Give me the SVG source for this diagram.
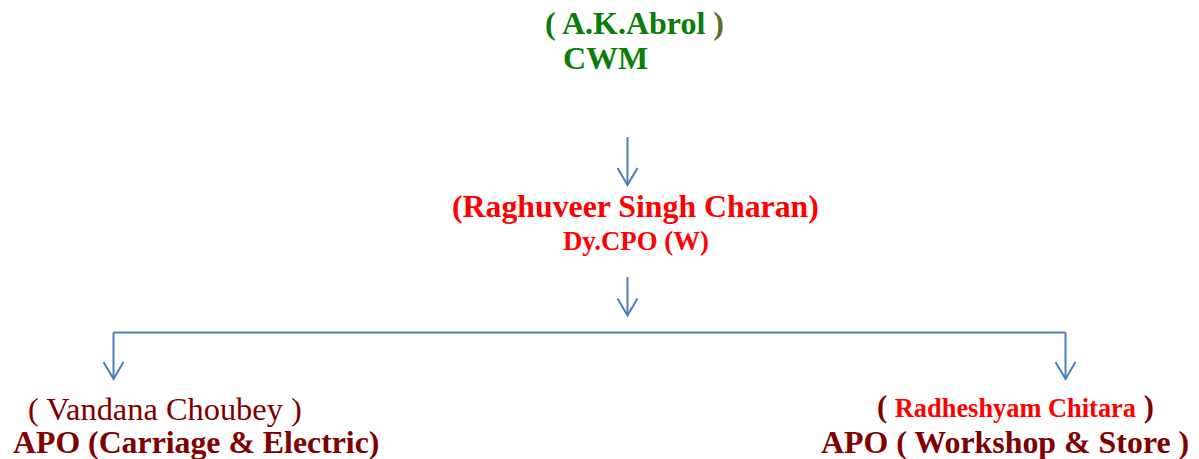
<svg xmlns="http://www.w3.org/2000/svg" width="1199" height="459" viewBox="0 0 1199 459">
<defs>
<style>
.b{font-weight:bold;}
.g{fill:#0a7d0a;}
.r{fill:#ff0000;}
.dr{fill:#800000;}
.conn{stroke:#4a7ebb;stroke-width:2;fill:none;}
</style>
<marker id="ah" viewBox="-20 -12 22 24" refX="0" refY="0" markerWidth="22" markerHeight="24" markerUnits="userSpaceOnUse" orient="auto">
<path d="M-17,-10 L0,0 L-17,10" fill="none" stroke="#4a7ebb" stroke-width="2"/>
</marker>
</defs>
<rect width="1199" height="459" fill="#ffffff"/>
<g id="connectors">
<path class="conn" d="M627.5,137 V185" marker-end="url(#ah)"/>
<path class="conn" d="M627.5,277 V315.5" marker-end="url(#ah)"/>
<path class="conn" d="M113.5,332.5 H1065.5"/>
<path class="conn" d="M113.5,332.5 V379" marker-end="url(#ah)"/>
<path class="conn" d="M1065.5,332.5 V379" marker-end="url(#ah)"/>
</g>
<g font-family="'Liberation Serif', 'DejaVu Serif', serif">
<g id="node-cwm">
<text class="b g" x="545" y="34" font-size="32">( A.K.Abrol <tspan fill="#5b6b2b">)</tspan></text>
<text class="b g" x="563" y="69" font-size="32">CWM</text>
</g>
<g id="node-dycpo">
<text class="b r" x="452" y="217" font-size="31.8">(Raghuveer Singh Charan)</text>
<text class="b r" x="563" y="250" font-size="26.8">Dy.CPO (W)</text>
</g>
<g id="node-apo-ce">
<text class="dr" x="28" y="420" font-size="32.4">( Vandana Choubey )</text>
<text class="b dr" x="13" y="453" font-size="31.8">APO (Carriage &amp; Electric)</text>
</g>
<g id="node-apo-ws">
<text x="877" y="417" font-size="30.5"><tspan class="b dr">(</tspan> <tspan class="b r" font-size="26.4">Radheshyam Chitara</tspan> <tspan class="b dr">)</tspan></text>
<text class="b dr" x="821" y="453" font-size="31.9">APO ( Workshop &amp; Store )</text>
</g>
</g>
</svg>
